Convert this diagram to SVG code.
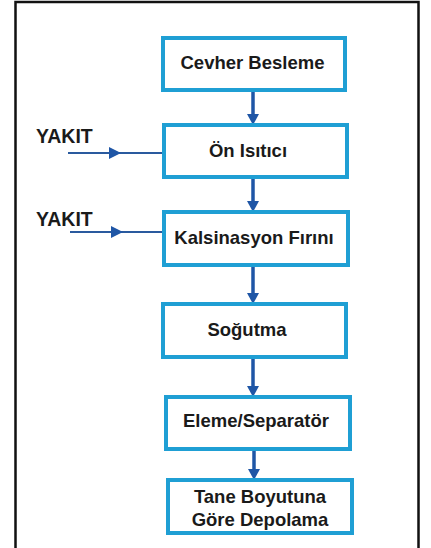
<svg xmlns="http://www.w3.org/2000/svg" width="431" height="548" viewBox="0 0 431 548">
<defs>
<style>
.box{fill:#fff;stroke:#1f9fd4;stroke-width:4}
.t{font-family:"Liberation Sans",Arial,sans-serif;font-weight:bold;font-size:18.5px;fill:#1a1a1a;text-anchor:middle}
.lbl{font-family:"Liberation Sans",Arial,sans-serif;font-weight:bold;font-size:19.5px;fill:#1a1a1a}
.v{stroke:#1f56a6;stroke-width:3.5;fill:none}
.h{stroke:#2a5a9e;stroke-width:2;fill:none}
.hd{fill:#1f56a6}
</style>
</defs>
<rect x="0" y="0" width="431" height="548" fill="#fff"/>
<rect x="15.5" y="2" width="403" height="560" fill="none" stroke="#111" stroke-width="2.5"/>
<g id="connectors">
<line class="v" x1="253" y1="90" x2="253" y2="116"/><polygon class="hd" points="247,114 259,114 253,125"/>
<line class="v" x1="253" y1="177" x2="253" y2="203"/><polygon class="hd" points="247,201 259,201 253,212"/>
<line class="v" x1="253" y1="265" x2="253" y2="295"/><polygon class="hd" points="247,293 259,293 253,304"/>
<line class="v" x1="253" y1="357" x2="253" y2="388"/><polygon class="hd" points="247,386 259,386 253,397"/>
<line class="v" x1="254" y1="449" x2="254" y2="471"/><polygon class="hd" points="248,469 260,469 254,480"/>
<line class="h" x1="68" y1="153" x2="163" y2="153"/><polygon class="hd" points="109,147 109,159 121,153"/>
<line class="h" x1="70" y1="232" x2="163" y2="232"/><polygon class="hd" points="111,226 111,238 123,232"/>
</g>
<g id="yakit1"><text class="lbl" x="36" y="143">YAKIT</text></g>
<g id="yakit2"><text class="lbl" x="36" y="226">YAKIT</text></g>
<g id="n1"><rect class="box" x="163" y="38" width="182" height="52"/><text class="t" x="252.5" y="68.5">Cevher Besleme</text></g>
<g id="n2"><rect class="box" x="164" y="125" width="183" height="52"/><text class="t" x="248" y="157">Ön Isıtıcı</text></g>
<g id="n3"><rect class="box" x="164" y="212" width="184" height="53"/><text class="t" x="254" y="243.5">Kalsinasyon Fırını</text></g>
<g id="n4"><rect class="box" x="163" y="304" width="183" height="53"/><text class="t" x="247" y="335.5">Soğutma</text></g>
<g id="n5"><rect class="box" x="166" y="397" width="184" height="52"/><text class="t" x="256" y="426.5">Eleme/Separatör</text></g>
<g id="n6"><rect class="box" x="168" y="480" width="184" height="53"/><text class="t" x="260" y="503">Tane Boyutuna</text><text class="t" x="260" y="526">Göre Depolama</text></g>
</svg>
